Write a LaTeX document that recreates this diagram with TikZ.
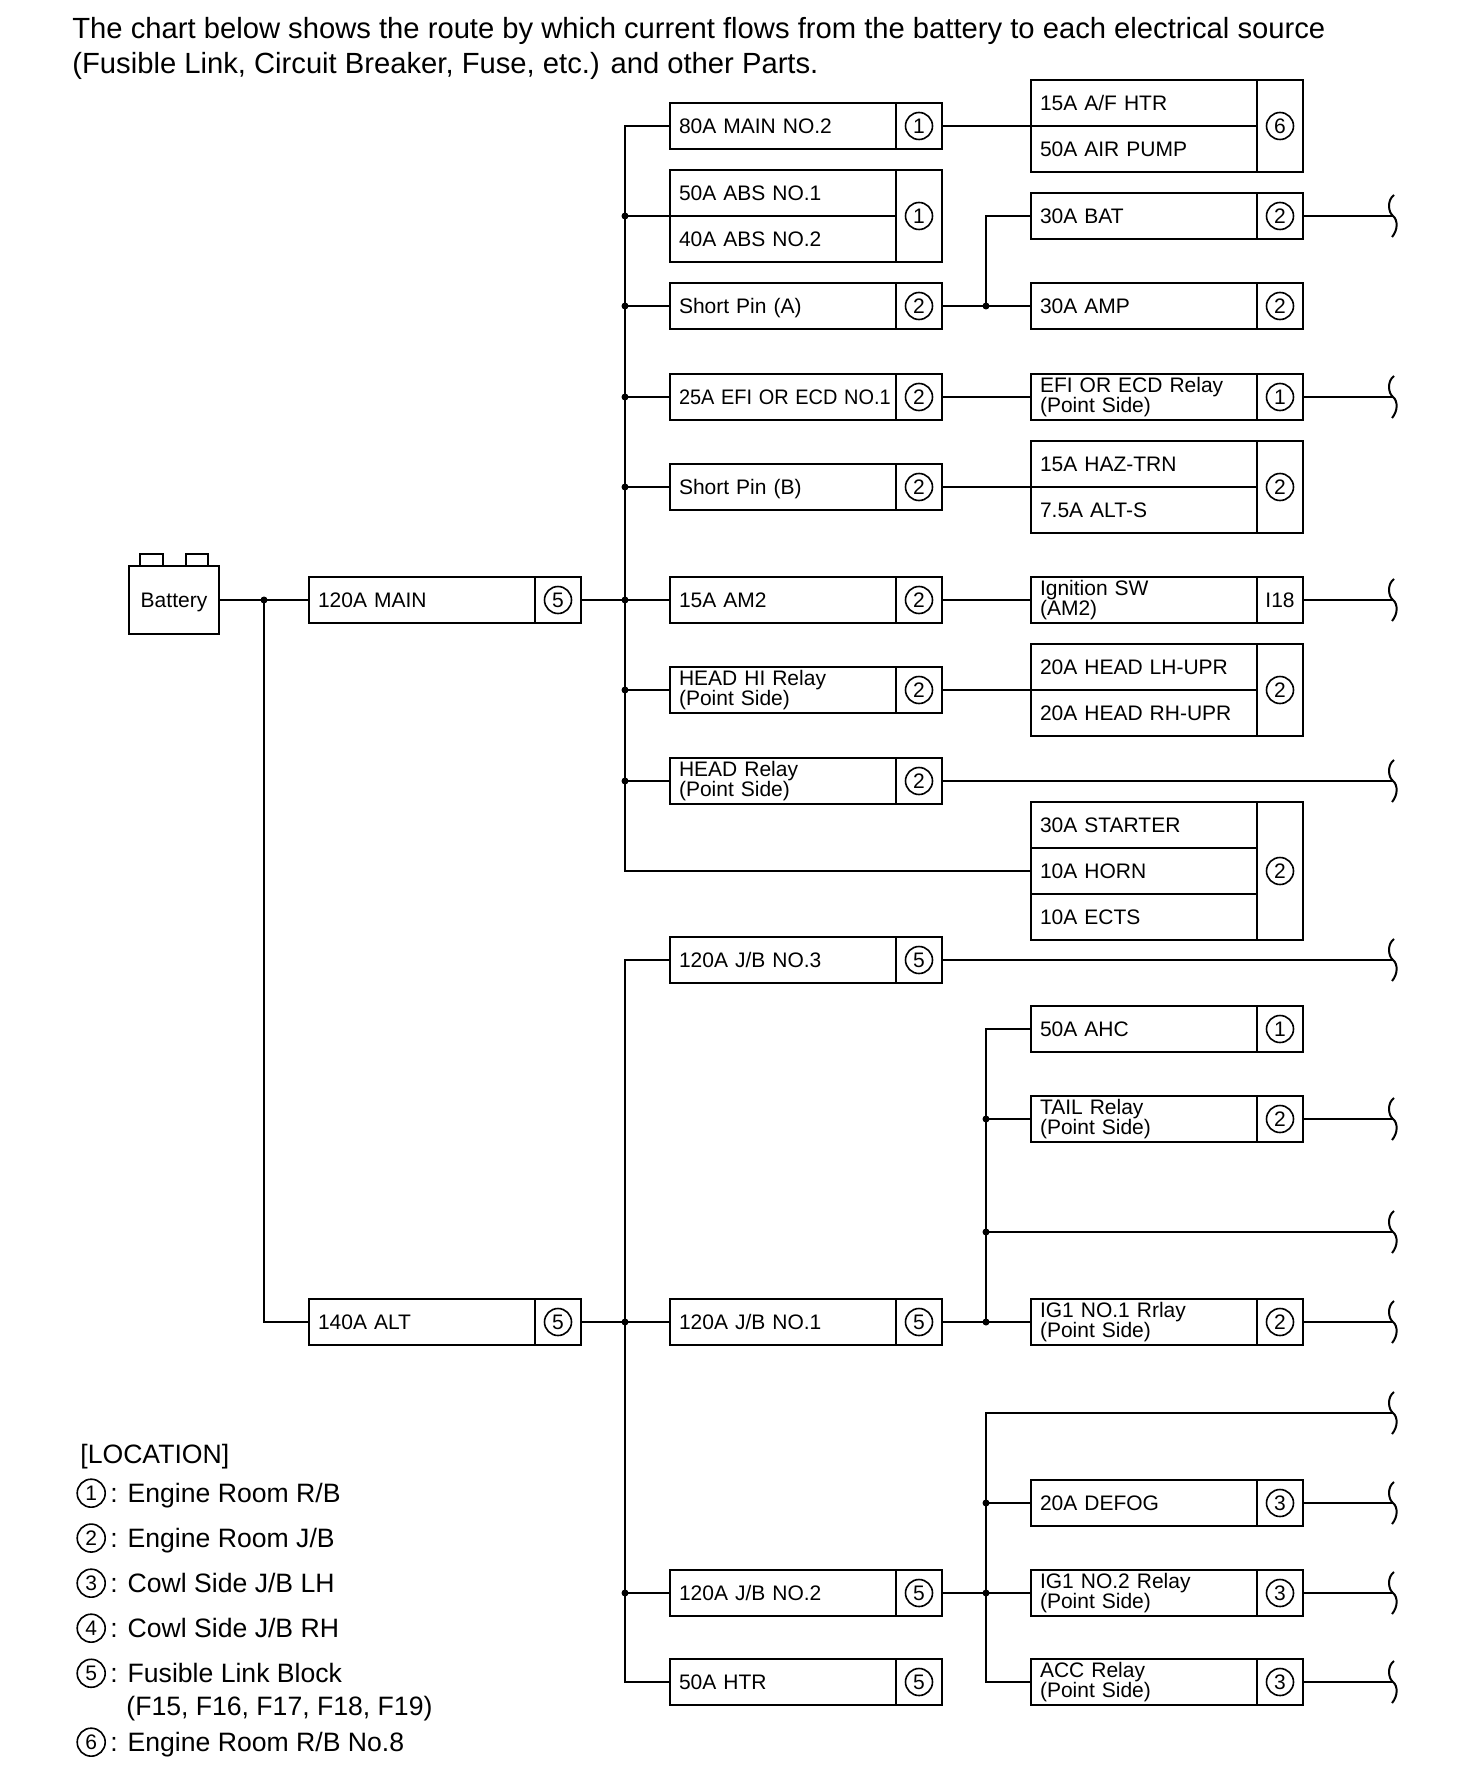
\documentclass[tikz,border=0pt]{standalone}
\usepackage{fontspec}
\usepackage{graphicx}
\setmainfont{Liberation Sans}
\usetikzlibrary{positioning}

% circled location number
\newcommand{\cn}[2][13.5pt]{\tikz[baseline={([yshift=-0.8pt]cn.base)}]\node[circle,draw,line width=0.8pt,inner sep=0pt,minimum size=#1,font=\fontsize{10.5}{10}\selectfont] (cn) {#2};}

\tikzset{
  fuse/.style={draw, line width=1.3pt, anchor=west, outer sep=0pt, minimum height=23pt,
    text width=104pt, inner xsep=4.5pt, inner ysep=0pt, align=left,
    text height=7.6pt, text depth=0pt, font=\fontsize{10.5}{10}\selectfont},
  twoline/.style={text height={}, text depth={}},
  loc/.style={draw, line width=1.3pt, outer sep=0pt, minimum width=23pt, minimum height=23pt,
    inner sep=0pt, font=\fontsize{10.5}{10}\selectfont},
  wire/.style={line width=0.8pt},
  bus/.style={line width=1.2pt},
  legend/.style={anchor=base west, inner sep=0pt, font=\fontsize{13.3}{16}\selectfont},
  brk/.pic={\draw[line width=1pt] (1,-21) .. controls (-6,-16) and (-5,-4) .. (0,0) .. controls (5,4) and (5,14) .. (-1,21);}
}

\begin{document}
\begin{tikzpicture}[x=0.5pt, y=-0.5pt]
\fill[white] (0,0) rectangle (1456,1792);
\useasboundingbox (0,0) rectangle (1456,1792);

% heading
\node[anchor=base west, inner sep=0pt, font=\fontsize{14.6}{17}\selectfont] (head1) at (72,39)
  {The chart below shows the route by which current flows from the battery to each electrical source};
\node[anchor=base west, inner sep=0pt, font=\fontsize{14.6}{17}\selectfont] (head2) at (72,74)
  {(Fusible Link, Circuit Breaker, Fuse, etc.) and other Parts.};

% wiring columns
\coordinate (altx) at (264,0);
\coordinate (busx) at (625,0);
\coordinate (subx) at (986,0);
\coordinate (bx) at (1393,0);

% battery
\node[draw, line width=1pt, outer sep=0pt, minimum width=45pt, minimum height=34pt,
  text height=7.6pt, text depth=0pt, font=\fontsize{10.5}{12}\selectfont] (battery) at (174,600) {Battery};
\draw[line width=1pt] (battery.north) ++(-34,0) rectangle ++(23,-12);
\draw[line width=1pt] (battery.north) ++(12,0) rectangle ++(22,-12);

\node[fuse] (main) at (309,600) {120A MAIN};
\node[loc, right=0pt of main] (mainl) {\cn{5}};
\node[fuse] (alt) at (309,1322) {140A ALT};
\node[loc, right=0pt of alt] (altl) {\cn{5}};

% left column
\node[fuse] (main2) at (670,126) {80A MAIN NO.2};
\node[loc, right=0pt of main2] (main2l) {\cn{1}};
\node[fuse] (abs1) at (670,193) {50A ABS NO.1};
\node[fuse, below=0pt of abs1] (abs2) {40A ABS NO.2};
\node[loc, minimum height=46pt, anchor=north west] (absl) at (abs1.north east) {\cn{1}};
\node[fuse] (spa) at (670,306) {Short Pin (A)};
\node[loc, right=0pt of spa] (spal) {\cn{2}};
\node[fuse] (efi) at (670,397) {\scalebox{0.95}[1]{25A EFI OR ECD NO.1}};
\node[loc, right=0pt of efi] (efil) {\cn{2}};
\node[fuse] (spb) at (670,487) {Short Pin (B)};
\node[loc, right=0pt of spb] (spbl) {\cn{2}};
\node[fuse] (am2) at (670,600) {15A AM2};
\node[loc, right=0pt of am2] (am2l) {\cn{2}};
\node[fuse, twoline] (headhi) at (670,690) {HEAD HI Relay\\(Point Side)};
\node[loc, right=0pt of headhi] (headhil) {\cn{2}};
\node[fuse, twoline] (head) at (670,781) {HEAD Relay\\(Point Side)};
\node[loc, right=0pt of head] (headl) {\cn{2}};
\node[fuse] (jb3) at (670,960) {120A J/B NO.3};
\node[loc, right=0pt of jb3] (jb3l) {\cn{5}};
\node[fuse] (jb1) at (670,1322) {120A J/B NO.1};
\node[loc, right=0pt of jb1] (jb1l) {\cn{5}};
\node[fuse] (jb2) at (670,1593) {120A J/B NO.2};
\node[loc, right=0pt of jb2] (jb2l) {\cn{5}};
\node[fuse] (htr) at (670,1682) {50A HTR};
\node[loc, right=0pt of htr] (htrl) {\cn{5}};

% right column
\node[fuse] (afhtr) at (1031,103) {15A A/F HTR};
\node[fuse, below=0pt of afhtr] (airpump) {50A AIR PUMP};
\node[loc, minimum height=46pt, anchor=north west] (afl) at (afhtr.north east) {\cn{6}};
\node[fuse] (bat) at (1031,216) {30A BAT};
\node[loc, right=0pt of bat] (batl) {\cn{2}};
\node[fuse] (amp) at (1031,306) {30A AMP};
\node[loc, right=0pt of amp] (ampl) {\cn{2}};
\node[fuse, twoline] (efirly) at (1031,397) {EFI OR ECD Relay\\(Point Side)};
\node[loc, right=0pt of efirly] (efirlyl) {\cn{1}};
\node[fuse] (haz) at (1031,464) {15A HAZ-TRN};
\node[fuse, below=0pt of haz] (alts) {7.5A ALT-S};
\node[loc, minimum height=46pt, anchor=north west] (hazl) at (haz.north east) {\cn{2}};
\node[fuse, twoline] (ign) at (1031,600) {Ignition SW\\(AM2)};
\node[loc, right=0pt of ign] (ignl) {I18};
\node[fuse] (headlh) at (1031,667) {20A HEAD LH-UPR};
\node[fuse, below=0pt of headlh] (headrh) {20A HEAD RH-UPR};
\node[loc, minimum height=46pt, anchor=north west] (headlhl) at (headlh.north east) {\cn{2}};
\node[fuse] (starter) at (1031,825) {30A STARTER};
\node[fuse, below=0pt of starter] (horn) {10A HORN};
\node[fuse, below=0pt of horn] (ects) {10A ECTS};
\node[loc, minimum height=69pt, anchor=north west] (starterl) at (starter.north east) {\cn{2}};
\node[fuse] (ahc) at (1031,1029) {50A AHC};
\node[loc, right=0pt of ahc] (ahcl) {\cn{1}};
\node[fuse, twoline] (tail) at (1031,1119) {TAIL Relay\\(Point Side)};
\node[loc, right=0pt of tail] (taill) {\cn{2}};
\node[fuse, twoline] (ig1a) at (1031,1322) {IG1 NO.1 Rrlay\\(Point Side)};
\node[loc, right=0pt of ig1a] (ig1al) {\cn{2}};
\node[fuse] (defog) at (1031,1503) {20A DEFOG};
\node[loc, right=0pt of defog] (defogl) {\cn{3}};
\node[fuse, twoline] (ig1b) at (1031,1593) {IG1 NO.2 Relay\\(Point Side)};
\node[loc, right=0pt of ig1b] (ig1bl) {\cn{3}};
\node[fuse, twoline] (acc) at (1031,1682) {ACC Relay\\(Point Side)};
\node[loc, right=0pt of acc] (accl) {\cn{3}};

% feeds from battery
\draw[wire] (battery.east) -- (main.west);
\draw[wire] (altx |- main.west) |- (alt.west);
\fill (altx |- main.west) circle (1.75pt);
\draw[wire] (mainl.east) -- (busx |- mainl.east);
\draw[wire] (altl.east) -- (busx |- altl.east);

% busbars
\draw[bus] (main2.west) -| (busx |- horn.west) -- (horn.west);
\draw[bus] (jb3.west) -| (busx |- htr.west) -- (htr.west);
\foreach \n in {abs1.south west, spa.west, efi.west, spb.west, am2.west, headhi.west, head.west, jb1.west, jb2.west}
  {\draw[wire] (busx |- \n) -- (\n);
   \fill (busx |- \n) circle (1.75pt);}

% left to right
\draw[wire] (main2l.east) -- (afhtr.south west);
\draw[wire] (spal.east) -- (amp.west);
\draw[wire] (subx |- amp.west) |- (bat.west);
\fill (subx |- amp.west) circle (1.75pt);
\draw[wire] (efil.east) -- (efirly.west);
\draw[wire] (spbl.east) -- (haz.south west);
\draw[wire] (am2l.east) -- (ign.west);
\draw[wire] (headhil.east) -- (headlh.south west);
\draw[wire] (headl.east) -- (bx |- headl.east) pic {brk};
\draw[wire] (jb3l.east) -- (bx |- jb3l.east) pic {brk};

\coordinate (open1) at (1393,1232);
\coordinate (open2) at (1393,1413);
\draw[wire] (jb1l.east) -- (ig1a.west);
\draw[wire] (ahc.west) -| (subx |- ig1a.west);
\draw[wire] (subx |- tail.west) -- (tail.west);
\draw[wire] (subx |- open1) -- (open1) pic {brk};
\foreach \p in {tail.west, open1, ig1a.west}
  \fill (subx |- \p) circle (1.75pt);
\draw[wire] (jb2l.east) -- (ig1b.west);
\draw[wire] (acc.west) -| (subx |- open2) -- (open2) pic {brk};
\draw[wire] (subx |- defog.west) -- (defog.west);
\foreach \p in {defog.west, ig1b.west}
  \fill (subx |- \p) circle (1.75pt);

% outgoing ends
\foreach \n in {batl, efirlyl, ignl, taill, ig1al, defogl, ig1bl, accl}
  \draw[wire] (\n.east) -- (bx |- \n.east) pic {brk};

% location key
\node[legend] (keyhead) at (80,1463) {[LOCATION]};
\node[legend] (key1) at (76,1502) {\cn[14pt]{1}\,: Engine Room R/B};
\node[legend] (key2) at (76,1547) {\cn[14pt]{2}\,: Engine Room J/B};
\node[legend] (key3) at (76,1592) {\cn[14pt]{3}\,: Cowl Side J/B LH};
\node[legend] (key4) at (76,1637) {\cn[14pt]{4}\,: Cowl Side J/B RH};
\node[legend] (key5) at (76,1682) {\cn[14pt]{5}\,: Fusible Link Block};
\node[legend] (key5b) at (126,1715) {(F15, F16, F17, F18, F19)};
\node[legend] (key6) at (76,1751) {\cn[14pt]{6}\,: Engine Room R/B No.8};
\end{tikzpicture}
\end{document}
